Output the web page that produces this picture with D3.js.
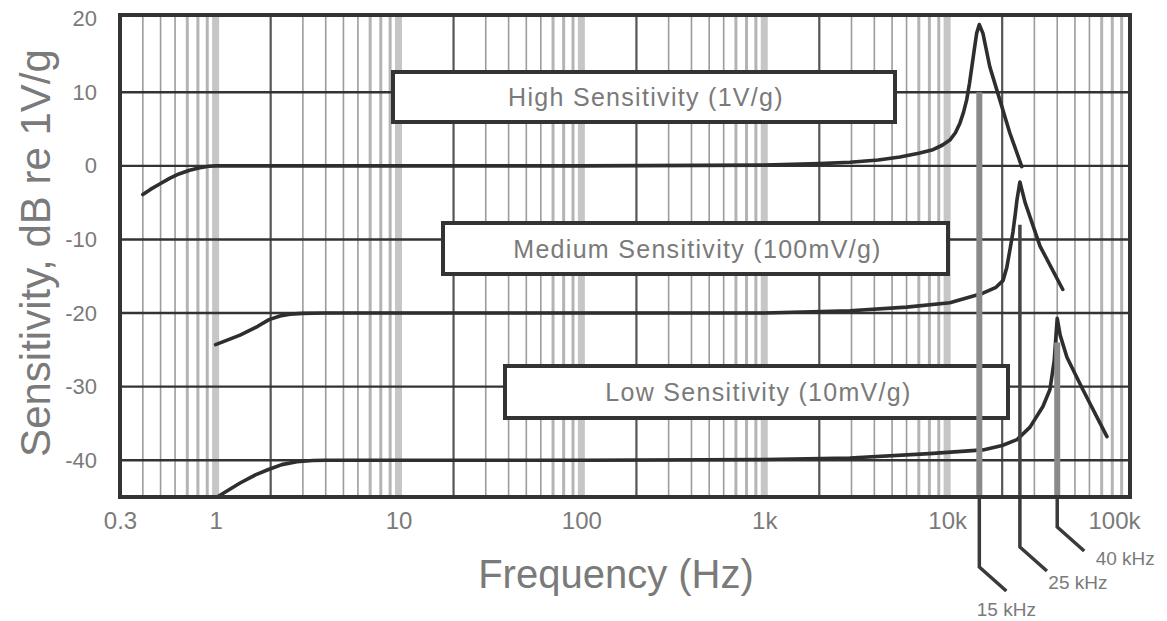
<!DOCTYPE html>
<html>
<head>
<meta charset="utf-8">
<script src="https://cdn.jsdelivr.net/npm/d3@7"></script>
<style>
  html, body { margin: 0; padding: 0; background: #fff; }
  svg { display: block; }
  text { font-family: "Liberation Sans", Arial, sans-serif; fill: #7a7a7a; }
</style>
</head>
<body>
<svg id="chart" width="1167" height="621"></svg>
<script>
// Axis ticks
const freqTicks = [0.3, 1, 10, 100, 1000, 10000, 100000];
const freqTickLabels = ["0.3", "1", "10", "100", "1k", "10k", "100k"];
const dbTicks = [20, 10, 0, -10, -20, -30, -40];
const dbGrid = [10, 0, -10, -20, -30, -40];

// High sensitivity accelerometer (1 V/g)
const highFreq = [0.4, 0.44, 0.5, 0.56, 0.63, 0.72, 0.82, 0.92, 1, 100, 1000, 2000, 2940, 4200, 5520, 7000, 8360, 9400, 10350, 11100, 11750, 12300, 12800, 13250, 13660, 14100, 14500, 15000, 15700, 17100, 19400, 22000, 25600];
const highDb   = [-3.9, -3.2, -2.4, -1.7, -1.1, -0.6, -0.25, -0.05, 0, 0, 0.1, 0.3, 0.5, 0.8, 1.2, 1.7, 2.2, 2.8, 3.5, 4.5, 5.8, 7.3, 9, 11.2, 13.5, 15.9, 18, 19.2, 18, 13.5, 9, 4.5, -0.1];

// Medium sensitivity accelerometer (100 mV/g)
const medFreq = [1, 1.36, 1.7, 1.96, 2.25, 2.55, 3, 4, 100, 1000, 2940, 6000, 10350, 15700, 18500, 20200, 21200, 22200, 22900, 23600, 24100, 25000, 26700, 32200, 42900];
const medDb   = [-24.3, -23, -21.8, -20.9, -20.4, -20.15, -20.05, -20, -20, -20, -19.7, -19.2, -18.6, -17.3, -16.5, -15.6, -13.8, -11, -9, -6.5, -4.6, -2.2, -5.0, -10.9, -16.8];

// Low sensitivity accelerometer (10 mV/g)
const lowFreq = [1.02, 1.36, 1.65, 1.93, 2.3, 2.78, 3.4, 4, 100, 1000, 2940, 8000, 15700, 20000, 24100, 28400, 33400, 36500, 38500, 40000, 41500, 45200, 55200, 74800];
const lowDb   = [-45, -43.1, -42, -41.3, -40.6, -40.2, -40.05, -40, -40, -39.9, -39.7, -39.1, -38.6, -38, -37.2, -35.5, -32.7, -30.4, -26.5, -20.7, -23, -26, -30.4, -36.8];

// Resonance call-outs
const resonanceFreq = [15000, 25000, 40000];
const resonanceTopDb = [10, -8, -24];
const resonanceLabels = ["15 kHz", "25 kHz", "40 kHz"];

const seriesLabels = ["High Sensitivity (1V/g)", "Medium Sensitivity (100mV/g)", "Low Sensitivity (10mV/g)"];

const svg = d3.select("#chart");
const L = 120, R = 1130, T = 15, B = 497;

const x = d3.scaleLog().domain([0.3, 100000]).range([L, R]);
const y = d3.scaleLinear().domain([-45, 20.5]).range([B, T]);

// Logarithmic vertical grid
const minor = [];
for (let e = -1; e <= 4; e++) {
  for (let k = 1; k <= 9; k++) {
    const f = k * Math.pow(10, e);
    if (f > 0.3 && f < 100000) minor.push({ f, k });
  }
}
svg.append("g").selectAll("line").data(minor).join("line")
  .attr("x1", d => x(d.f)).attr("x2", d => x(d.f))
  .attr("y1", T).attr("y2", B)
  .attr("stroke", d => d.k === 1 ? "#c6c6c6" : d.k === 2 ? "#555" : (d.k >= 7 ? "#b4b4b4" : "#9c9c9c"))
  .attr("stroke-width", d => d.k === 1 ? 7 : d.k === 2 ? 2.2 : (d.k >= 7 ? 3 : 1.6));

// Horizontal grid
svg.append("g").selectAll("line").data(dbGrid).join("line")
  .attr("x1", L).attr("x2", R)
  .attr("y1", d => y(d)).attr("y2", d => y(d))
  .attr("stroke", "#333").attr("stroke-width", 2.4);

// Series label boxes
const boxes = [
  { x0: 393, x1: 895, y0: 72, y1: 122 },
  { x0: 443, x1: 948, y0: 223, y1: 274 },
  { x0: 505, x1: 1008, y0: 366, y1: 418 }
];
const boxG = svg.append("g");
boxG.selectAll("rect").data(boxes).join("rect")
  .attr("x", d => d.x0).attr("y", d => d.y0)
  .attr("width", d => d.x1 - d.x0).attr("height", d => d.y1 - d.y0)
  .attr("fill", "#fff").attr("stroke", "#333").attr("stroke-width", 4);
boxG.selectAll("text").data(boxes).join("text")
  .attr("x", d => (d.x0 + d.x1) / 2 + 2)
  .attr("y", d => (d.y0 + d.y1) / 2 + 9)
  .attr("text-anchor", "middle")
  .attr("font-size", 25)
  .attr("letter-spacing", 1.3)
  .attr("fill", "#858585")
  .text((d, i) => seriesLabels[i]);

// Response curves
const line = d3.line().x(d => x(d[0])).y(d => y(d[1]));
const series = [
  d3.zip(highFreq, highDb),
  d3.zip(medFreq, medDb),
  d3.zip(lowFreq, lowDb)
];
svg.append("g").selectAll("path").data(series).join("path")
  .attr("d", line)
  .attr("fill", "none").attr("stroke", "#2e2e2e").attr("stroke-width", 3.6)
  .attr("stroke-linejoin", "round").attr("stroke-linecap", "round");

// Resonance leader lines and labels
const leadBottom = [567, 547, 527];
const labelDx = [27, 58, 68];
const labelDy = [49, 42, 38];
const lead = svg.append("g");
resonanceFreq.forEach((f, i) => {
  const xf = x(f);
  lead.append("line")
    .attr("x1", xf).attr("x2", xf)
    .attr("y1", y(resonanceTopDb[i])).attr("y2", B)
    .attr("stroke", i === 1 ? "#444" : "#8a8a8a")
    .attr("stroke-width", i === 1 ? 3.5 : 6);
  lead.append("path")
    .attr("d", `M${xf},${B}V${leadBottom[i]}l27,24`)
    .attr("fill", "none").attr("stroke", "#3a3a3a").attr("stroke-width", 3.5);
  lead.append("text")
    .attr("x", xf + labelDx[i]).attr("y", leadBottom[i] + labelDy[i])
    .attr("text-anchor", "middle")
    .attr("font-size", 19)
    .attr("fill", "#888")
    .text(resonanceLabels[i]);
});

// Plot frame
svg.append("rect")
  .attr("x", L).attr("y", T).attr("width", R - L).attr("height", B - T)
  .attr("fill", "none").attr("stroke", "#333").attr("stroke-width", 4);

// Axes (labels only)
const xAxis = svg.append("g")
  .attr("transform", `translate(0,${B + 12})`)
  .call(d3.axisBottom(x).tickValues(freqTicks).tickSize(0)
    .tickFormat((d, i) => freqTickLabels[i]));
xAxis.select(".domain").remove();
xAxis.selectAll("text")
  .attr("font-size", 24).attr("fill", "#7a7a7a")
  .attr("font-family", "Liberation Sans, Arial, sans-serif")
  .attr("dx", (d, i) => i === freqTickLabels.length - 1 ? -16 : 0);

const yAxis = svg.append("g")
  .attr("transform", `translate(${L - 20},0)`)
  .call(d3.axisLeft(y).tickValues(dbTicks).tickSize(0).tickFormat(d => String(d)));
yAxis.select(".domain").remove();
yAxis.selectAll("text")
  .attr("font-size", 22).attr("fill", "#7a7a7a")
  .attr("font-family", "Liberation Sans, Arial, sans-serif");

// Axis titles
svg.append("text")
  .attr("x", 616).attr("y", 588)
  .attr("text-anchor", "middle")
  .attr("font-size", 40)
  .text("Frequency (Hz)");
svg.append("text")
  .attr("transform", "translate(50,253) rotate(-90)")
  .attr("text-anchor", "middle")
  .attr("font-size", 42)
  .text("Sensitivity, dB re 1V/g");
</script>
</body>
</html>
